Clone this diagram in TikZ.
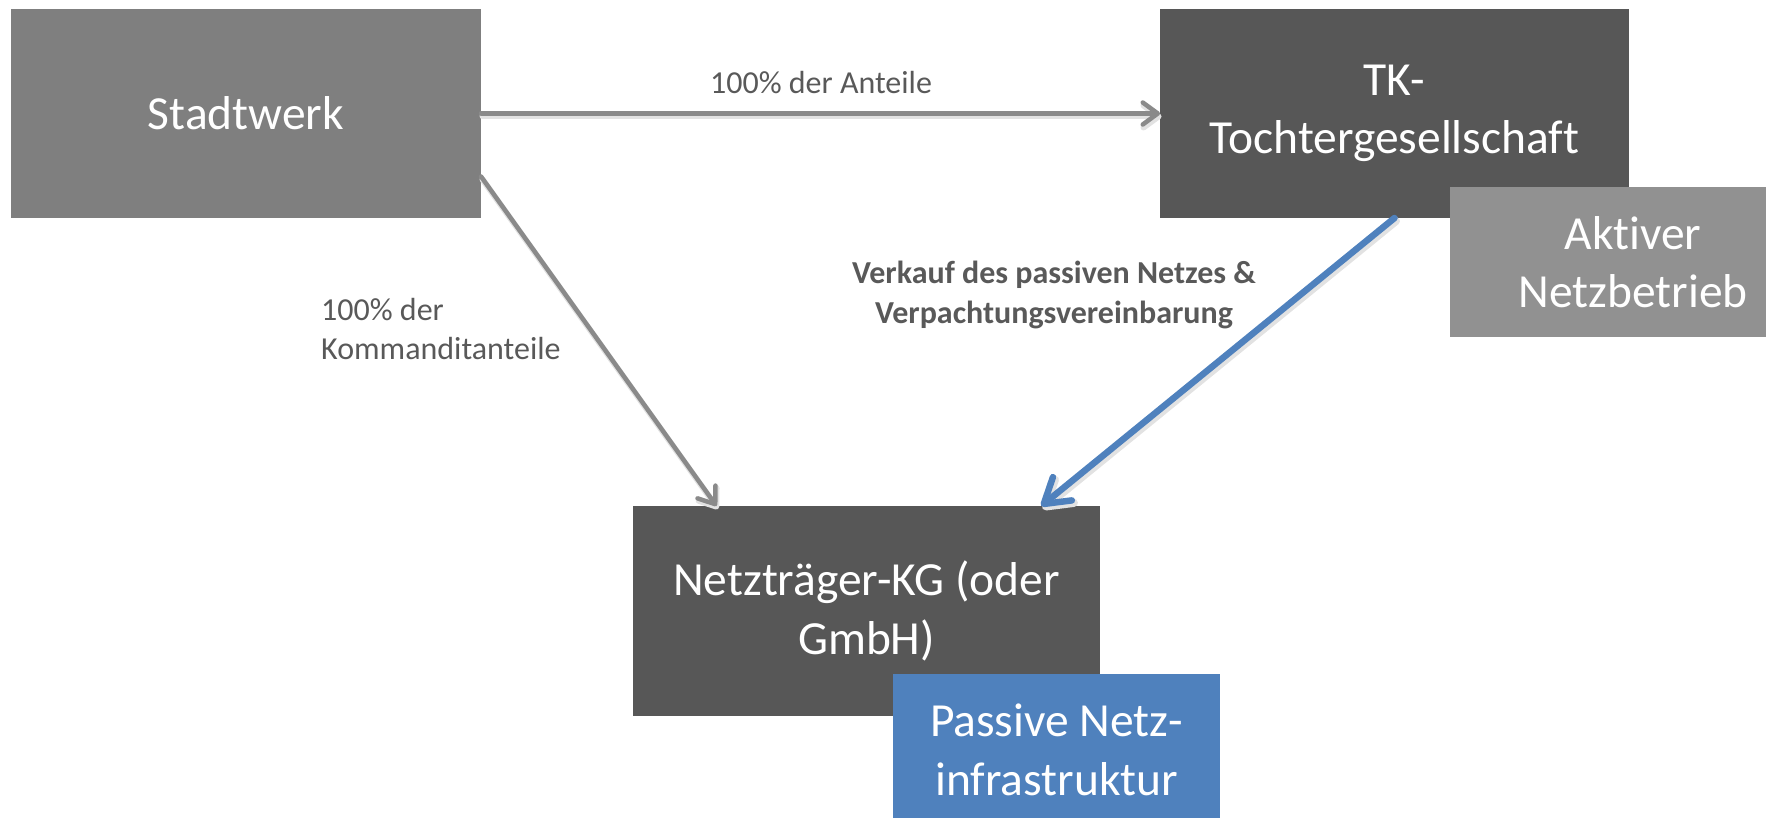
\documentclass[tikz,border=0pt]{standalone}
\usepackage{fontspec}
\setmainfont{Carlito}[Ligatures={NoCommon,NoRequired,NoContextual}, Contextuals=NoAlternate]
\usetikzlibrary{arrows.meta,calc}
\definecolor{swgray}{HTML}{7F7F7F}
\definecolor{darkbox}{HTML}{575757}
\definecolor{lightbox}{HTML}{919191}
\definecolor{netblue}{HTML}{4F81BD}
\definecolor{arrowgray}{HTML}{8A8A8A}
\definecolor{labelgray}{HTML}{595959}
\definecolor{softshadow}{HTML}{E2E2E2}
\tikzset{
  box/.style={inner sep=0pt, outer sep=0pt, text=white, align=center,
    font=\fontsize{47.5}{58.5}\selectfont},
  lbl/.style={inner sep=0pt, text=labelgray, font=\fontsize{32}{39.5}\selectfont},
  graytip/.style={-{Straight Barb[length=15pt,width=22pt,round]}},
  bluetip/.style={-{Straight Barb[length=24pt,width=30pt,round]}},
  grayarrow/.style={graytip, draw=arrowgray, line width=4.5pt, line cap=round},
  bluearrow/.style={bluetip, draw=netblue, line width=6.5pt, line cap=round},
  dropshadow/.style={draw=softshadow, line cap=round,
    transform canvas={shift={(1.5pt,-3pt)}}}
}
\begin{document}
\begin{tikzpicture}[x=1pt,y=-1pt]
\useasboundingbox (0,0) rectangle (1766,818);

% companies
\node[box, fill=swgray, minimum width=470pt, minimum height=209pt] (sw) at (246,113.5) {Stadtwerk};
\node[box, fill=darkbox, minimum width=469pt, minimum height=209pt] (tk) at (1394.5,113.5) {TK-\\Tochtergesellschaft};
\node[box, fill=lightbox, minimum width=316pt, minimum height=150pt, anchor=north west] (akt) at (1450,187) {};
\node[box] (akttext) at (1633,262) {Aktiver\\Netzbetrieb};
\node[box, fill=darkbox, minimum width=467pt, minimum height=210pt] (nt) at (866.5,611) {Netzträger-KG (oder\\GmbH)};
\node[box, fill=netblue, minimum width=327pt, minimum height=152pt, anchor=north west] (pas) at (893,674) {};
\node[box] (pastext) at (1056.5,750) {Passive Netz-\\infrastruktur};

% soft shadows under the connectors
\draw[dropshadow, graytip, line width=6pt] (sw.east) -- (tk.west);
\draw[dropshadow, graytip, line width=6pt] (sw.-15) -- (nt.145);
\draw[dropshadow, bluetip, line width=8pt] (tk.south) -- (nt.31);

% ownership and contracts
\draw[grayarrow] (sw.east) -- (tk.west);
\draw[grayarrow] (sw.-15) -- (nt.145);
\draw[bluearrow] (tk.south) -- (nt.31);

% labels
\node[lbl] (l1) at (821,83) {100\% der Anteile};
\node[lbl, anchor=west, align=left] (l2) at (321,329) {100\% der\\Kommanditanteile};
\node[lbl, align=center, font=\fontsize{32}{40.5}\selectfont\bfseries] (l3) at (1054,295) {Verkauf des passiven Netzes \&\\Verpachtungsvereinbarung};
\end{tikzpicture}
\end{document}
